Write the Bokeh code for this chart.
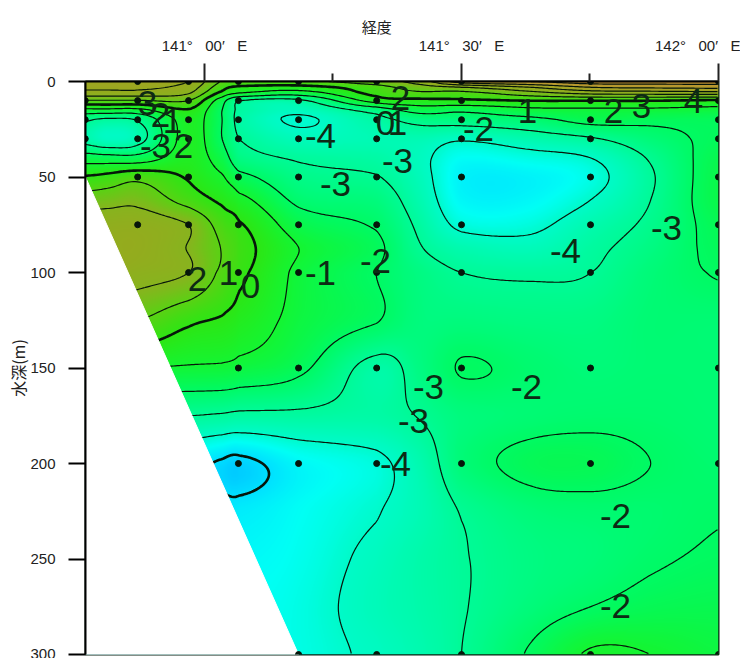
import numpy as np
from bokeh.plotting import figure
from bokeh.embed import file_html
from bokeh.resources import INLINE
from bokeh.core.properties import value
from bokeh.models import FixedTicker, LinearColorMapper, Range1d

# --- data -----------------------------------------------------------------
grid_lon = [140.768, 140.81, 140.870, 140.969, 141.035, 141.066, 141.183, 141.335,
            141.42, 141.5, 141.634, 141.751, 141.868, 142.0]
grid_depth = [0, 3, 6, 10, 15, 20, 30, 40, 50, 62, 75, 87, 100, 125, 150, 175, 200, 225, 250, 275, 300]

temp_c00 = [3.3, 3.2, 2.6, 0.9, -1.3, -2.9, -3.4, -1.5, 0.1, 1.5, 2.5, 2.8, 2.8, 1.0, -1.0, -3.0, -5.0, -5.0, -5.0, -5.0, -5.0]
temp_c01 = [3.3, 3.2, 2.6, 0.9, -1.3, -3.2, -3.85, -1.6, 0.3, 1.6, 2.6, 2.8, 2.7, 1.0, -1.0, -3.0, -5.0, -5.0, -5.0, -5.0, -5.0]
temp_c02 = [3.3, 3.2, 2.6, 0.9, -1.3, -2.9, -3.4, -1.6, 0.7, 1.7, 2.6, 2.8, 2.4, 1.0, -1.0, -3.0, -5.0, -5.0, -4.9, -4.8, -4.8]
temp_c03 = [3.0, 2.6, 2.1, 1.0, -0.1, -0.6, -0.6, -0.5, -0.1, 0.6, 2.0, 1.95, 2.0, 0.2, -1.1, -3.0, -4.8, -4.9, -4.8, -4.7, -4.7]
temp_c04 = [0.9, 0.4, -0.3, -1.6, -2.0, -2.0, -2.0, -1.5, -0.9, -0.2, 0.6, 0.95, 0.8, -0.1, -1.15, -3.1, -5.1, -4.8, -4.7, -4.6, -4.6]
temp_c05 = [0.8, -0.2, -1.0, -3.0, -3.2, -3.3, -3.0, -2.6, -1.7, -0.7, 0.1, 0.35, 0.2, -0.4, -1.3, -3.2, -5.2, -4.8, -4.6, -4.5, -4.4]
temp_c06 = [0.8, -0.4, -1.5, -3.2, -3.8, -4.1, -3.7, -3.1, -2.7, -2.2, -1.5, -1.0, -1.2, -1.3, -1.8, -3.2, -4.6, -4.5, -4.4, -4.3, -4.3]
temp_c07 = [1.5, 0.6, 0.3, -0.6, -2.6, -3.3, -3.6, -3.3, -2.95, -2.5, -2.1, -1.8, -2.0, -1.95, -3.3, -3.3, -4.2, -4.05, -3.8, -3.7, -3.85]
temp_c08 = [2.5, 1.5, 0.8, -0.3, -1.6, -2.7, -3.6, -3.8, -3.7, -3.5, -3.2, -2.95, -2.6, -2.5, -2.6, -2.95, -3.5, -3.6, -3.4, -3.4, -3.5]
temp_c09 = [4.5, 2.0, 0.7, -0.2, -1.8, -2.6, -3.9, -4.5, -4.7, -4.6, -4.2, -3.5, -3.0, -2.5, -1.95, -2.5, -2.4, -2.95, -3.05, -3.05, -3.0]
temp_c10 = [5.0, 3.0, 1.6, 0.0, -1.3, -2.3, -3.5, -4.3, -4.7, -4.6, -4.2, -3.7, -3.1, -2.6, -2.2, -2.3, -1.75, -2.4, -2.6, -2.45, -1.9]
temp_c11 = [5.5, 4.0, 2.3, 0.0, -1.2, -1.7, -3.1, -4.0, -4.3, -4.0, -3.5, -3.2, -3.0, -2.6, -2.4, -2.2, -1.7, -2.25, -2.4, -2.0, -0.9]
temp_c12 = [5.5, 4.2, 2.4, 0.0, -1.2, -1.8, -2.4, -2.9, -3.1, -3.0, -2.8, -2.6, -2.4, -2.3, -2.3, -2.2, -2.0, -2.2, -2.1, -1.7, -1.0]
temp_c13 = [5.5, 4.3, 2.5, -0.2, -1.3, -1.8, -1.8, -1.6, -1.5, -1.5, -1.7, -1.8, -1.95, -2.3, -2.3, -2.3, -2.2, -2.05, -1.9, -1.6, -1.3]

station_lon = [140.768, 140.870, 140.969, 141.066, 141.183, 141.335, 141.5, 141.751, 142.0]
station_depths = [
    [10, 20, 30],
    [0, 10, 20, 30, 50, 75],
    [0, 10, 20, 30, 50, 75, 100],
    [0, 10, 20, 30, 50, 75, 100, 150, 200],
    [0, 10, 20, 30, 50, 75, 100, 150, 200, 300],
    [0, 10, 20, 30, 50, 75, 100, 150, 200, 300],
    [0, 10, 20, 30, 50, 75, 100, 150, 200, 300],
    [0, 10, 20, 30, 50, 75, 100, 150, 200, 300],
    [0, 10, 20, 30, 50, 75, 100, 150, 200, 300],
]
seabed_lon = [140.768, 141.183, 140.768]
seabed_depth = [49.7, 300, 300]

contour_levels = [-5, -4, -3, -2, -1, 0, 1, 2, 3, 4, 5]
contour_widths = [2.6, 1.2, 1.2, 1.2, 1.2, 2.6, 1.2, 1.2, 1.2, 1.2, 1.2]

color_levels = [-5.5, -5, -4.5, -4, -3, -2, -1, 0, 1, 2, 3, 4, 5, 6]
color_rgb = [(0, 190, 255), (0, 225, 255), (0, 255, 245), (0, 250, 200), (0, 250, 150), (0, 250, 100),
             (20, 245, 50), (45, 230, 20), (90, 210, 20), (135, 180, 30), (150, 170, 30),
             (170, 160, 40), (190, 150, 50), (200, 140, 50)]

lon_ticks = [141.0, 141.5, 142.0]
lon_minor = [141.25, 141.75]
lon_labels = ["141°\u00a0\u00a0\u00a000′\u00a0\u00a0\u00a0E", "141°\u00a0\u00a0\u00a030′\u00a0\u00a0\u00a0E", "142°\u00a0\u00a0\u00a000′\u00a0\u00a0\u00a0E"]
depth_ticks = [0, 50, 100, 150, 200, 250, 300]

# contour label text, and where it sits on the page (pixels)
label_text = ["3", "2", "1", "-3", "2", "-4", "-3", "-3", "2", "0", "1", "-2", "1", "2", "3", "4",
              "-4", "-3", "2", "1", "0", "-1", "-2", "-3", "-2", "-3", "-4", "-2", "-2"]
label_px = [147, 160, 172, 155, 183, 320, 335, 397, 400, 385, 397, 478, 527, 613, 641, 693,
            565, 666, 197, 228, 250, 320, 375, 428, 526, 413, 395, 615, 615]
label_py = [102, 114, 120, 145, 145, 135, 183, 160, 97, 122, 122, 128, 110, 110, 105, 100,
            250, 227, 278, 272, 285, 272, 260, 386, 386, 420, 463, 515, 605]

# --- field on a fine raster (smooth drawing between the values read above) --
X0, X1, Y0, Y1 = 140.7685, 142.0, 0.0, 300.0
table = np.array([temp_c00, temp_c01, temp_c02, temp_c03, temp_c04, temp_c05, temp_c06,
                  temp_c07, temp_c08, temp_c09, temp_c10, temp_c11, temp_c12, temp_c13]).T


def catmull(arr, q, axis):
    arr = np.moveaxis(arr, axis, 0)
    n = arr.shape[0]
    i = np.clip(np.floor(q).astype(int), 0, n - 2)
    t = (q - i).reshape((-1,) + (1,) * (arr.ndim - 1))
    p0, p1, p2, p3 = arr[np.clip(i - 1, 0, n - 1)], arr[i], arr[i + 1], arr[np.clip(i + 2, 0, n - 1)]
    out = 0.5 * (2 * p1 + (p2 - p0) * t + (2 * p0 - 5 * p1 + 4 * p2 - p3) * t ** 2 + (3 * p1 - p0 - 3 * p2 + p3) * t ** 3)
    return np.moveaxis(out, 0, axis)


fine_x = np.linspace(X0, X1, 634)
fine_y = np.linspace(Y0, Y1, 574)
z = catmull(table, np.interp(fine_y, grid_depth, np.arange(len(grid_depth))), 0)
z = catmull(z, np.interp(fine_x, grid_lon, np.arange(len(grid_lon))), 1)

low, high = color_levels[0], color_levels[-1]
steps = np.linspace(low, high, 512)
rgb = np.array(color_rgb, float)
palette = ["#%02x%02x%02x" % tuple(int(round(np.interp(s, color_levels, rgb[:, c]))) for c in range(3)) for s in steps]
mapper = LinearColorMapper(palette=palette, low=low, high=high)

# --- figure -----------------------------------------------------------------
p = figure(width=740, height=658, output_backend="svg", toolbar_location=None,
           x_range=Range1d(X0, X1), y_range=Range1d(Y1, Y0), x_axis_location="above",
           min_border_left=85, min_border_right=22, min_border_top=81, min_border_bottom=4)
p.grid.visible = False
p.background_fill_color = "white"
p.outline_line_color = "#0a1f10"
p.outline_line_width = 2

p.image(image=[z], x=X0, y=Y0, dw=X1 - X0, dh=Y1 - Y0, color_mapper=mapper, level="image")
p.contour(fine_x[::2], fine_y[::2], z[::2, ::2], levels=contour_levels, fill_color=None,
          line_color="#06160a", line_width=contour_widths)
p.patch(seabed_lon, seabed_depth, fill_color="white", line_color="white", line_width=1)

st_x = [lon for lon, ds in zip(station_lon, station_depths) for _ in ds]
st_y = [d for ds in station_depths for d in ds]
p.scatter(st_x, st_y, size=6, color="#06160a")

lab_x = [141 + (px - 204) / 514 for px in label_px]
lab_y = [(py - 81) * 300 / 573 for py in label_py]
p.text(lab_x, lab_y, text=label_text, text_font=value("Liberation Sans"), text_font_size="35px",
       text_color="#0d2a14", text_align="center", text_baseline="middle")

xa = p.xaxis[0]
xa.ticker = FixedTicker(ticks=lon_ticks, minor_ticks=lon_minor)
xa.major_label_overrides = dict(zip(lon_ticks, lon_labels))
xa.major_tick_in = 0
xa.major_tick_out = 18
xa.minor_tick_in = 0
xa.minor_tick_out = 8
xa.major_label_standoff = 10
xa.axis_line_width = 2
xa.axis_line_color = "black"
xa.major_tick_line_width = 2
xa.minor_tick_line_width = 2
xa.major_tick_line_color = "#222222"
xa.minor_tick_line_color = "#222222"
xa.major_label_text_font = "Liberation Sans"
xa.major_label_text_font_size = "15px"
xa.major_label_text_color = "#222222"
xa.axis_label = "経度" + "\u00a0" * 15
xa.axis_label_text_font = "Noto Sans CJK JP"
xa.axis_label_text_font_size = "15px"
xa.axis_label_text_font_style = "normal"
xa.axis_label_text_color = "#222222"
xa.axis_label_standoff = -3

ya = p.yaxis[0]
ya.ticker = FixedTicker(ticks=depth_ticks, minor_ticks=[])
ya.major_tick_in = 0
ya.major_tick_out = 17
ya.minor_tick_out = 0
ya.major_label_standoff = 13
ya.axis_line_width = 2
ya.axis_line_color = "black"
ya.major_tick_line_width = 2
ya.major_tick_line_color = "black"
ya.major_label_text_font = "Liberation Sans"
ya.major_label_text_font_size = "15px"
ya.major_label_text_color = "#222222"
ya.axis_label = "水深(m)"
ya.axis_label_text_font = "Noto Sans CJK JP"
ya.axis_label_text_font_size = "16px"
ya.axis_label_text_font_style = "normal"
ya.axis_label_text_color = "#222222"
ya.axis_label_standoff = -3

open("out.html", "w").write(file_html(p, INLINE))
